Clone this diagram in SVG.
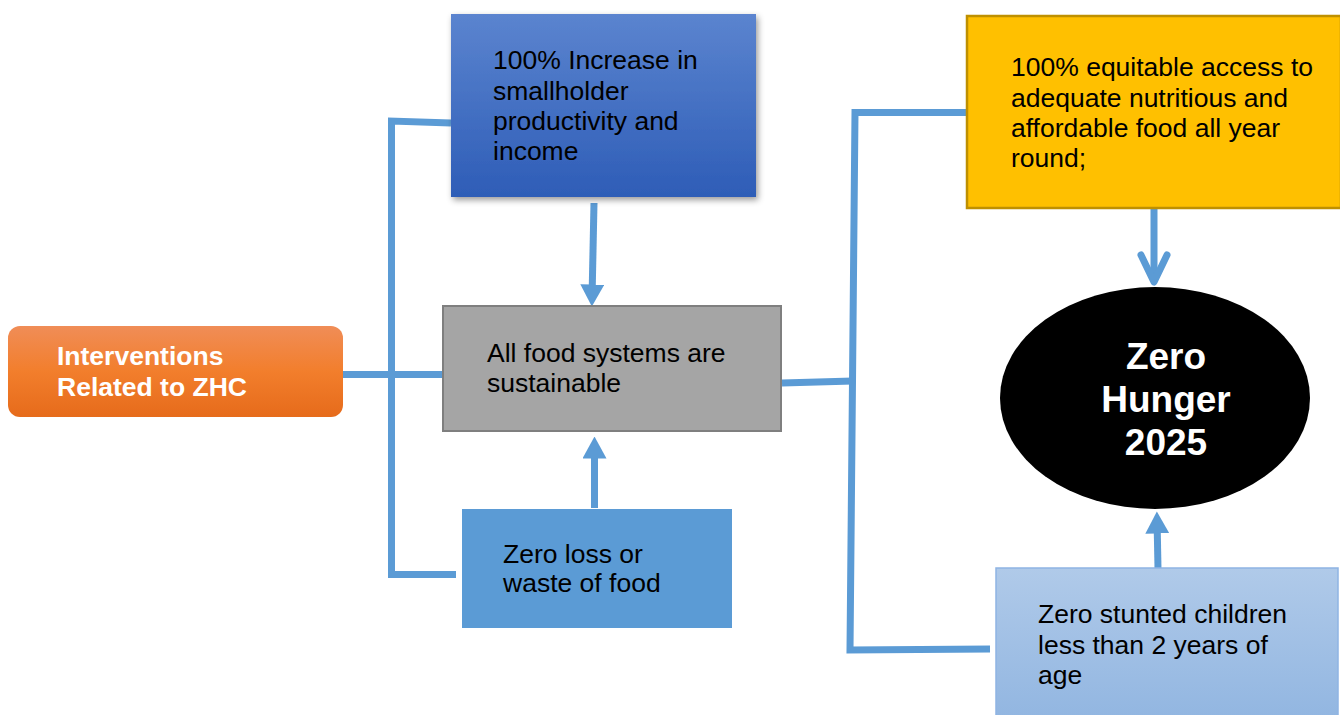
<svg xmlns="http://www.w3.org/2000/svg" width="1340" height="715" viewBox="0 0 1340 715">
  <defs>
    <linearGradient id="gOrange" x1="0" y1="0" x2="0" y2="1">
      <stop offset="0" stop-color="#F08D57"/>
      <stop offset="0.5" stop-color="#F27E2C"/>
      <stop offset="1" stop-color="#E66B1B"/>
    </linearGradient>
    <linearGradient id="gBlue" x1="0" y1="0" x2="0" y2="1">
      <stop offset="0" stop-color="#5B84CF"/>
      <stop offset="1" stop-color="#2E5DB7"/>
    </linearGradient>
    <linearGradient id="gLight" x1="0" y1="0" x2="0" y2="1">
      <stop offset="0" stop-color="#B0CAE9"/>
      <stop offset="1" stop-color="#92B6E1"/>
    </linearGradient>
    <filter id="shadow" x="-10%" y="-10%" width="125%" height="130%">
      <feDropShadow dx="2" dy="3" stdDeviation="3" flood-color="#000" flood-opacity="0.4"/>
    </filter>
    <marker id="head" markerUnits="userSpaceOnUse" viewBox="0 0 22 24" markerWidth="22" markerHeight="24" refX="0.5" refY="12" orient="auto">
      <path d="M0,0 L22,12 L0,24 Z" fill="#5B9BD5"/>
    </marker>
    <marker id="chevron" markerUnits="userSpaceOnUse" viewBox="-32 -18 36 36" markerWidth="36" markerHeight="36" refX="0" refY="0" orient="auto" overflow="visible">
      <path d="M-27,-13 L0,0 L-27,13" fill="none" stroke="#5B9BD5" stroke-width="7" stroke-linecap="round" stroke-linejoin="round"/>
    </marker>
  </defs>
  <style>
    .txt { font-family: "Liberation Sans", Arial, sans-serif; font-size: 26.5px; fill: #000; }
    .bold { font-weight: bold; fill: #fff; }
    .big { font-family: "Liberation Sans", Arial, sans-serif; font-size: 37px; font-weight: bold; fill: #fff; }
    .wire { fill: none; stroke: #5B9BD5; stroke-width: 7; stroke-linejoin: miter; }
  </style>

  <rect width="1340" height="715" fill="#fff"/>

  <!-- connectors -->
  <g id="connectors">
    <path class="wire" d="M451,123 L391.5,121 L391.5,574.5 L456,574.5"/>
    <path class="wire" d="M343,374.5 L443,374.5"/>
    <path class="wire" d="M782,383 L853,381"/>
    <path class="wire" d="M967,112.5 L855,112.5 L850,650 L990,649"/>
    <path class="wire" d="M594,203 L592.3,285" marker-end="url(#head)"/>
    <path class="wire" d="M594.5,508 L594.5,458" marker-end="url(#head)"/>
    <path class="wire" d="M1154,208 L1154,282" marker-end="url(#chevron)"/>
    <path class="wire" d="M1158,568 L1157.3,533" marker-end="url(#head)"/>
  </g>

  <g id="interventions">
    <rect x="8" y="326" width="335" height="91" rx="12" fill="url(#gOrange)"/>
    <text class="txt bold" x="57"><tspan x="57" y="365">Interventions</tspan><tspan x="57" y="396">Related to ZHC</tspan></text>
  </g>

  <g id="smallholder">
    <rect x="451" y="14" width="305" height="183" fill="url(#gBlue)" filter="url(#shadow)"/>
    <text class="txt"><tspan x="493" y="69">100% Increase in</tspan><tspan x="493" y="99.5">smallholder</tspan><tspan x="493" y="130">productivity and</tspan><tspan x="493" y="160">income</tspan></text>
  </g>

  <g id="food-systems">
    <rect x="443" y="306" width="338" height="125" fill="#A5A5A5" stroke="#7F7F7F" stroke-width="2"/>
    <text class="txt"><tspan x="487" y="362">All food systems are</tspan><tspan x="487" y="392">sustainable</tspan></text>
  </g>

  <g id="zero-loss">
    <rect x="462" y="509" width="270" height="119" fill="#5B9BD5"/>
    <text class="txt"><tspan x="503" y="563">Zero loss or</tspan><tspan x="503" y="592">waste of food</tspan></text>
  </g>

  <g id="equitable-access">
    <rect x="967" y="16" width="374" height="192" fill="#FFC000" stroke="#BF9000" stroke-width="2.5"/>
    <text class="txt"><tspan x="1011" y="76">100% equitable access to</tspan><tspan x="1011" y="107">adequate nutritious and</tspan><tspan x="1011" y="137">affordable food all year</tspan><tspan x="1011" y="167">round;</tspan></text>
  </g>

  <g id="zero-hunger">
    <ellipse cx="1155" cy="398" rx="155" ry="111" fill="#000"/>
    <text class="big" text-anchor="middle"><tspan x="1166" y="369">Zero</tspan><tspan x="1166" y="412">Hunger</tspan><tspan x="1166" y="455">2025</tspan></text>
  </g>

  <g id="stunting">
    <rect x="996" y="568" width="342" height="150" fill="url(#gLight)" stroke="#8FB4E3" stroke-width="1.5"/>
    <text class="txt"><tspan x="1038" y="623">Zero stunted children</tspan><tspan x="1038" y="654">less than 2 years of</tspan><tspan x="1038" y="684">age</tspan></text>
  </g>
</svg>
